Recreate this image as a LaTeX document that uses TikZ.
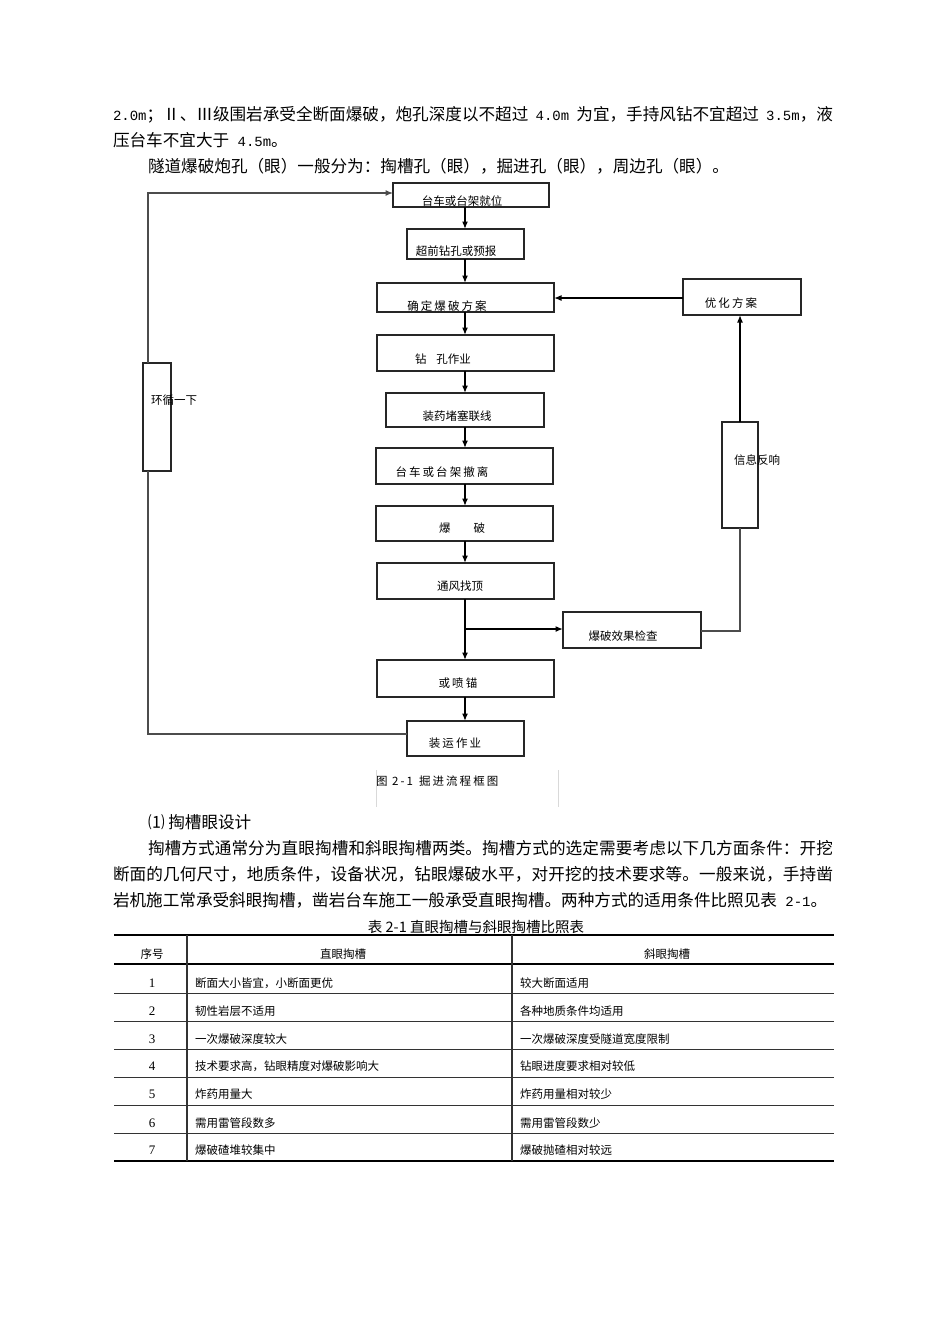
\documentclass[tikz,border=0pt]{standalone}
\usepackage{fontspec}
\setmainfont{Noto Sans CJK SC}
\newfontfamily\cjk{Noto Sans CJK SC}
\newfontfamily\cjkls[LetterSpace=18]{Noto Sans CJK SC}
\newfontfamily\sernum{Liberation Serif}
\newfontfamily\mono{Liberation Mono}
\usetikzlibrary{arrows.meta}
\makeatletter
\count@="4E00 \loop \XeTeXcharclass\count@=1 \advance\count@ 1 \ifnum\count@<"A000 \repeat
\count@="3000 \loop \XeTeXcharclass\count@=1 \advance\count@ 1 \ifnum\count@<"3040 \repeat
\count@="FF00 \loop \XeTeXcharclass\count@=1 \advance\count@ 1 \ifnum\count@<"FFF0 \repeat
\count@="2160 \loop \XeTeXcharclass\count@=1 \advance\count@ 1 \ifnum\count@<"2180 \repeat
\makeatother
\XeTeXinterchartokenstate=1
\XeTeXinterchartoks 1 1 = {\hskip 0pt plus 1fil\relax}
\XeTeXinterchartoks 1 0 = {\hskip 0pt plus 1fil\relax}
\XeTeXinterchartoks 0 1 = {\hskip 0pt plus 1fil\relax}
\newcommand\fullline[2]{\makebox[#1][s]{#2}}
\newcommand\lat[1]{{\mono\fontsize{14}{16}\selectfont #1}}
\newcommand\lsfont[1]{\XeTeXinterchartokenstate=0 \cjkls\fontsize{#1}{13}\selectfont}
\begin{document}
\begin{tikzpicture}[x=1pt,y=-1pt,
  every node/.style={inner sep=0pt, outer sep=0pt},
  body/.style={anchor=west, font=\cjk\fontsize{16.6}{19}\selectfont},
  fbox/.style={draw=black!85, line width=1.2pt, anchor=north west, minimum width=#1},
  lab/.style={font=\cjk\fontsize{11.5}{13}\selectfont},
  labls/.style={font=\lsfont{11.5}},
  arr/.style={line width=1.4pt, -{Latex[length=7.5pt,width=6pt]}},
  conn/.style={line width=1.2pt, draw=black!70},
  tab/.style={font=\cjk\fontsize{11.5}{13}\selectfont},
  tnum/.style={font=\sernum\fontsize{13}{15}\selectfont}
]
\useasboundingbox (0,0) rectangle (950,1344);
\fill[white] (0,0) rectangle (950,1344);

% ---------- top text ----------
\node[body] (p1) at (113,115) {\fullline{720pt}{\lat{2.0m}；Ⅱ、Ⅲ级围岩承受全断面爆破，炮孔深度以不超过\lat{ 4.0m }为宜，手持风钻不宜超过\lat{ 3.5m}，液}};
\node[body] (p2) at (113,140) {压台车不宜大于\lat{ 4.5m}。};
\node[body] (p3) at (148,166) {隧道爆破炮孔（眼）一般分为：掏槽孔（眼），掘进孔（眼），周边孔（眼）。};

% ---------- flowchart boxes ----------
\node[fbox=156pt, minimum height=24pt] (B1) at (393,183) {};
\node[fbox=117pt, minimum height=30pt] (B2) at (407,229) {};
\node[fbox=177pt, minimum height=29pt] (B3) at (377,283) {};
\node[fbox=177pt, minimum height=36pt] (B4) at (377,335) {};
\node[fbox=158pt, minimum height=34pt] (B5) at (386,393) {};
\node[fbox=177pt, minimum height=36pt] (B6) at (376,448) {};
\node[fbox=177pt, minimum height=35pt] (B7) at (376,506) {};
\node[fbox=177pt, minimum height=36pt] (B8) at (377,563) {};
\node[fbox=177pt, minimum height=37pt] (B9) at (377,660) {};
\node[fbox=117pt, minimum height=35pt] (B10) at (407,721) {};
\node[fbox=28pt, minimum height=108pt] (L) at (143,363) {};
\node[fbox=118pt, minimum height=36pt] (Y) at (683,279) {};
\node[fbox=36pt, minimum height=106pt] (X) at (722,422) {};
\node[fbox=138pt, minimum height=36pt] (J) at (563,612) {};

% ---------- labels ----------
\node[lab] (t1) at (462,201) {台车或台架就位};
\node[lab] (t2) at (456,251) {超前钻孔或预报};
\node[labls] (t3) at (447,306) {确定爆破方案};
\node[lab, anchor=west] (t4) at (415,359) {钻\hspace{10pt}孔作业};
\node[lab] (t5) at (457,416) {装药堵塞联线};
\node[lab, anchor=west] (tl) at (151,400) {环循一下};
\node[labls] (t6) at (442,472) {台车或台架撤离};
\node[lab, anchor=west] (t7) at (439,528) {爆\hspace{23pt}破};
\node[lab] (t8) at (460,586) {通风找顶};
\node[labls] (t9) at (458,683) {或喷锚};
\node[labls] (t10) at (455,743) {装运作业};
\node[labls] (ty) at (731,303) {优化方案};
\node[lab, anchor=west] (tx) at (734,460) {信息反响};
\node[lab] (tj) at (623,636) {爆破效果检查};
\node[font=\lsfont{11.5}, anchor=west] (cap) at (376,781) {图 2-1\hspace{6pt}掘进流程框图};
\draw[black!15, line width=0.8pt] (376,770) -- (376,807) (558,770) -- (558,807);

% ---------- connectors ----------
\coordinate (col) at (465,0);
\draw[arr] (B1.south -| col) -- (B2.north -| col);
\draw[arr] (B2.south -| col) -- (B3.north -| col);
\draw[arr] (B3.south -| col) -- (B4.north -| col);
\draw[arr] (B4.south -| col) -- (B5.north -| col);
\draw[arr] (B5.south -| col) -- (B6.north -| col);
\draw[arr] (B6.south -| col) -- (B7.north -| col);
\draw[arr] (B7.south -| col) -- (B8.north -| col);
\draw[arr] (B8.south -| col) -- (B9.north -| col);
\draw[arr] (B9.south -| col) -- (B10.north -| col);
\coordinate (jn) at (465,629);
\draw[arr] (jn) -- (jn -| J.west);
% loop back
\coordinate (lp1) at (148,734);
\coordinate (lp2) at (148,193);
\draw[conn] (B10.west |- lp1) -- (lp1) -- (lp1 |- L.south);
\draw[conn, -{Latex[length=7.5pt,width=6pt]}] (lp2 |- L.north) -- (lp2) -- (lp2 -| B1.west);
% feedback
\coordinate (rc) at (740,631);
\draw[conn] (J.east |- rc) -- (rc) -- (rc |- X.south);
\draw[arr] (rc |- X.north) -- (rc |- Y.south);
\coordinate (yc) at (0,298);
\draw[arr] (Y.west |- yc) -- (B3.east |- yc);

% ---------- paragraph ----------
\node[body] (q0) at (148,822) {⑴ 掏槽眼设计};
\node[body] (q1) at (148,848) {\fullline{685pt}{掏槽方式通常分为直眼掏槽和斜眼掏槽两类。掏槽方式的选定需要考虑以下几方面条件：开挖}};
\node[body] (q2) at (113,874) {\fullline{720pt}{断面的几何尺寸，地质条件，设备状况，钻眼爆破水平，对开挖的技术要求等。一般来说，手持凿}};
\node[body] (q3) at (113,900) {岩机施工常承受斜眼掏槽，凿岩台车施工一般承受直眼掏槽。两种方式的适用条件比照见表\lat{ 2-1}。};

% ---------- table ----------
\node[font=\cjk\fontsize{14.5}{16}\selectfont] (tt) at (476,927) {表 2-1 直眼掏槽与斜眼掏槽比照表};
\draw[line width=2.6pt] (114,935) -- (834,935);
\draw[line width=2.6pt] (114,1161) -- (834,1161);
\draw[line width=1.2pt] (114,964) -- (834,964);
\foreach \yy in {993,1021,1049,1077,1105,1133}{
  \draw[line width=1pt, black!80] (114,\yy) -- (834,\yy);
}
\draw[line width=1.2pt, black!80] (187,935) -- (187,1161);
\draw[line width=1.2pt, black!80] (512,935) -- (512,1161);
\node[tab] (h1) at (152,954) {序号};
\node[tab] (h2) at (343,954) {直眼掏槽};
\node[tab] (h3) at (667,954) {斜眼掏槽};
\foreach \n/\yy/\a/\b in {
  1/983/{断面大小皆宜，小断面更优}/{较大断面适用},
  2/1011/{韧性岩层不适用}/{各种地质条件均适用},
  3/1039/{一次爆破深度较大}/{一次爆破深度受隧道宽度限制},
  4/1066/{技术要求高，钻眼精度对爆破影响大}/{钻眼进度要求相对较低},
  5/1094/{炸药用量大}/{炸药用量相对较少},
  6/1123/{需用雷管段数多}/{需用雷管段数少},
  7/1150/{爆破碴堆较集中}/{爆破抛碴相对较远}}{
  \node[tnum] (n\n) at (152,\yy) {\n};
  \node[tab, anchor=west] (a\n) at (195,\yy) {\a};
  \node[tab, anchor=west] (b\n) at (520,\yy) {\b};
}
\end{tikzpicture}
\end{document}
